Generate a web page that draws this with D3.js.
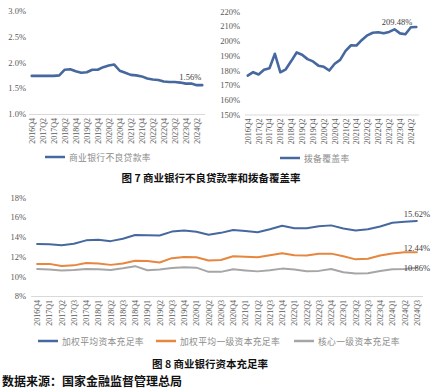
<!DOCTYPE html>
<html><head><meta charset="utf-8">
<script src="https://cdn.jsdelivr.net/npm/d3@7"></script>
<style>
html,body{margin:0;padding:0;background:#fff;}
svg{display:block;}
</style></head><body>
<svg id="c" width="433" height="390"></svg>
<script>
const quarters = ["2016Q4","2017Q1","2017Q2","2017Q3","2017Q4","2018Q1","2018Q2","2018Q3","2018Q4",
  "2019Q1","2019Q2","2019Q3","2019Q4","2020Q1","2020Q2","2020Q3","2020Q4","2021Q1","2021Q2","2021Q3",
  "2021Q4","2022Q1","2022Q2","2022Q3","2022Q4","2023Q1","2023Q2","2023Q3","2023Q4","2024Q1","2024Q2","2024Q3"];

const nplRatio = [1.74,1.74,1.74,1.74,1.74,1.75,1.86,1.87,1.83,1.80,1.81,1.86,1.86,1.91,1.94,1.96,
  1.84,1.80,1.76,1.75,1.73,1.69,1.67,1.66,1.63,1.62,1.62,1.61,1.59,1.59,1.56,1.56];
const provisionCoverage = [176.40,178.76,177.18,180.39,181.42,191.28,178.70,180.73,186.31,192.17,190.61,
  187.63,186.08,183.20,182.40,179.89,184.47,187.10,193.23,197.08,196.91,200.70,203.78,205.54,205.85,
  205.20,206.13,207.89,205.14,204.54,209.32,209.48];

const capitalAdequacy = [13.28,13.26,13.16,13.30,13.65,13.72,13.57,13.81,14.20,14.18,14.15,14.54,14.64,
  14.53,14.21,14.41,14.70,14.59,14.48,14.77,15.13,14.87,14.87,15.09,15.17,14.86,14.66,14.77,15.06,15.43,15.53,15.62];
const tier1Adequacy = [11.25,11.26,11.04,11.11,11.35,11.31,11.16,11.29,11.58,11.55,11.40,11.84,11.95,
  11.94,11.61,11.65,12.04,11.99,11.93,12.13,12.35,12.13,12.12,12.30,12.30,12.04,11.72,11.79,12.12,12.32,12.43,12.44];
const coreTier1Adequacy = [10.75,10.68,10.58,10.63,10.75,10.72,10.65,10.81,11.03,10.62,10.70,10.85,10.92,
  10.88,10.45,10.45,10.72,10.60,10.50,10.62,10.78,10.68,10.52,10.55,10.74,10.41,10.28,10.30,10.54,10.71,10.74,10.86];

const nplTicks = [1.0,1.5,2.0,2.5,3.0];
const coverageTicks = [150,160,170,180,190,200,210,220];
const capitalTicks = [8,10,12,14,16,18];

const nplLegend = "商业银行不良贷款率";
const coverageLegend = "拨备覆盖率";
const capitalLegends = ["加权平均资本充足率","加权平均一级资本充足率","核心一级资本充足率"];
const title7 = "图 7  商业银行不良贷款率和拨备覆盖率";
const title8 = "图 8  商业银行资本充足率";
const sourceText = "数据来源：国家金融监督管理总局";

const BLUE = "#46689f", ORANGE = "#e6863f", GRAY = "#a6a6a6";
const SERIF = "'Liberation Serif','Times New Roman',serif";
const CJK = "'Noto Sans CJK SC','Noto Sans CJK JP',sans-serif";

const svg = d3.select("#c");

function panel(o) {
  const x = d3.scalePoint().domain(quarters).range(o.xr).padding(0.5);
  const y = d3.scaleLinear().domain(o.yd).range(o.yr);
  const g = svg.append("g");
  // y axis labels
  const ya = d3.axisLeft(y).tickValues(o.yticks).tickSize(0).tickPadding(0).tickFormat(o.yfmt);
  const yg = g.append("g").attr("transform", `translate(${o.ylabX},0)`).call(ya);
  yg.select(".domain").remove();
  yg.selectAll("text").attr("font-family", SERIF).attr("font-size", 8.5).attr("fill", "#595959");
  // x axis
  const xa = d3.axisBottom(x).tickValues(o.xticks).tickSize(0).tickPadding(0);
  const xg = g.append("g").attr("transform", `translate(0,${o.yr[0]})`).call(xa);
  xg.select(".domain").attr("stroke", "#d9d9d9").attr("stroke-width", 1).attr("d", `M${o.xr[0]},0.5H${o.xr[1]}`);
  xg.selectAll("text")
    .attr("font-family", SERIF).attr("font-size", 8).attr("fill", "#595959")
    .attr("text-anchor", "end").attr("dy", null).attr("y", 0)
    .attr("dominant-baseline", "central")
    .attr("transform", "translate(0,4) rotate(-90)");
  // lines
  o.series.forEach(s => {
    g.append("path").datum(s.values)
      .attr("fill", "none").attr("stroke", s.color).attr("stroke-width", o.lw)
      .attr("stroke-linejoin", "round").attr("stroke-linecap", "round")
      .attr("d", d3.line().x((d, i) => x(quarters[i])).y(d => y(d)));
    const li = s.values.length - 1;
    g.append("text")
      .attr("x", x(quarters[li]) + s.ldx).attr("y", y(s.values[li]) + s.ldy)
      .attr("text-anchor", s.anchor)
      .attr("font-family", SERIF).attr("font-size", 8.5).attr("fill", "#404040")
      .text(s.label);
  });
  // legend
  o.legend.forEach(l => {
    g.append("line").attr("x1", l.x).attr("x2", l.x + 20).attr("y1", l.y).attr("y2", l.y)
      .attr("stroke", l.color).attr("stroke-width", 2.5);
    g.append("text").attr("x", l.x + 24).attr("y", l.y).attr("dominant-baseline", "central")
      .attr("font-family", CJK).attr("font-size", 8.8).attr("fill", "#8c8c8c")
      .attr("letter-spacing", 0.3)
      .text(l.text);
  });
}

const everyOther = quarters.filter((d, i) => i % 2 === 0);

panel({
  xr: [29, 205], yd: [1.0, 3.0], yr: [114, 11], ylabX: 26,
  yticks: nplTicks, yfmt: d => d3.format(".1f")(d) + "%",
  xticks: everyOther, lw: 2.6,
  series: [{values: nplRatio, color: BLUE, label: "1.56%", ldx: -1, ldy: -5, anchor: "end"}],
  legend: [{x: 45, y: 157, color: BLUE, text: nplLegend}]
});

panel({
  xr: [245, 419], yd: [150, 220], yr: [114.5, 11.5], ylabX: 240,
  yticks: coverageTicks, yfmt: d => d + "%",
  xticks: everyOther, lw: 2.6,
  series: [{values: provisionCoverage, color: BLUE, label: "209.48%", ldx: -4, ldy: -2, anchor: "end"}],
  legend: [{x: 280, y: 158, color: BLUE, text: coverageLegend}]
});

panel({
  xr: [31, 423], yd: [8, 18], yr: [296, 197.5], ylabX: 26,
  yticks: capitalTicks, yfmt: d => d + "%",
  xticks: quarters, lw: 2,
  series: [
    {values: capitalAdequacy, color: BLUE, label: "15.62%", ldx: 0, ldy: -4, anchor: "middle"},
    {values: tier1Adequacy, color: ORANGE, label: "12.44%", ldx: 0, ldy: -1, anchor: "middle"},
    {values: coreTier1Adequacy, color: GRAY, label: "10.86%", ldx: 0, ldy: 3.5, anchor: "middle"}
  ],
  legend: [
    {x: 38, y: 341, color: BLUE, text: capitalLegends[0]},
    {x: 156, y: 341, color: ORANGE, text: capitalLegends[1]},
    {x: 294, y: 341, color: GRAY, text: capitalLegends[2]}
  ]
});

svg.append("text").attr("x", 211).attr("y", 177).attr("text-anchor", "middle")
  .attr("dominant-baseline", "central").attr("font-family", CJK).attr("font-weight", "bold")
  .attr("font-size", 10.5).attr("fill", "#111").text(title7);
svg.append("text").attr("x", 210).attr("y", 363).attr("text-anchor", "middle")
  .attr("dominant-baseline", "central").attr("font-family", CJK).attr("font-weight", "bold")
  .attr("font-size", 10.5).attr("fill", "#111").text(title8);
svg.append("text").attr("x", 2).attr("y", 380)
  .attr("dominant-baseline", "central").attr("font-family", CJK).attr("font-weight", "bold")
  .attr("font-size", 12).attr("fill", "#111").text(sourceText);
</script>
</body></html>
